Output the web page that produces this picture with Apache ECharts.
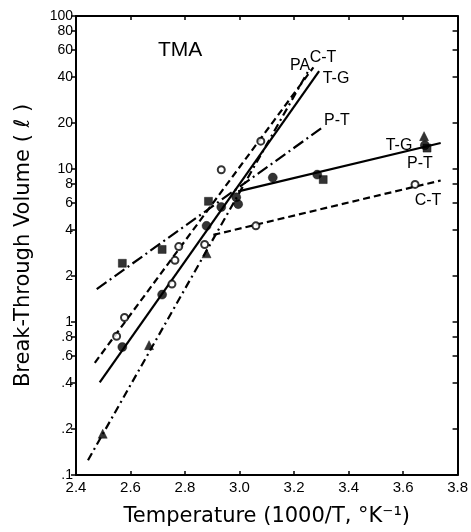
<!DOCTYPE html>
<html>
<head>
<meta charset="utf-8">
<script src="https://cdn.jsdelivr.net/npm/echarts@6/dist/echarts.min.js"></script>
<style>html,body{margin:0;padding:0;background:#fff;}#c{width:471px;height:532px;}</style>
</head>
<body>
<div id="c"></div>
<script>
// ---- data ----
const xTicks = [2.4, 2.6, 2.8, 3.0, 3.2, 3.4, 3.6, 3.8];
const yTicks = [0.1, 0.2, 0.4, 0.6, 0.8, 1, 2, 4, 6, 8, 10, 20, 40, 60, 80, 100];

// markers
const tgPoints = [[2.570,0.686],[2.716,1.51],[2.879,4.25],[2.933,5.64],[2.988,6.53],[2.995,5.89],[3.122,8.79],[3.285,9.19],[3.680,14.3]];
const ptPoints = [[2.570,2.42],[2.716,2.98],[2.886,6.15],[3.307,8.53],[3.688,13.7]];
const ctPoints = [[2.549,0.807],[2.578,1.07],[2.752,1.77],[2.763,2.53],[2.777,3.11],[2.872,3.21],[2.933,9.89],[3.060,4.25],[3.078,15.2],[3.644,7.93]];
const paPoints = [[2.498,0.186],[2.668,0.706],[2.879,2.81],[3.677,16.4]];

// fitted lines (end points)
const paSteep = [[2.444,0.125],[3.256,44.9]];
const ctSteep = [[2.469,0.541],[3.271,46.2]];
const tgSteep = [[2.487,0.403],[3.292,43.6]];
const ptSteep = [[2.476,1.64],[3.310,19.0]];
const tgptFlat = [[2.995,7.14],[3.738,14.8]];
const ctFlat = [[2.904,3.71],[3.738,8.41]];

const lineLabels = ['PA','C-T','T-G','P-T','T-G','P-T','C-T'];

// ---- chart ----
const chart = echarts.init(document.getElementById('c'), null, {renderer:'canvas'});
const FONT = 'Liberation Sans';
const black = '#000';

function lineSeries(data, type, width) {
  return {type:'line', data:data, symbol:'none', silent:true,
    lineStyle:{color:black, width:width||2.2, type:type}, z:2, animation:false};
}
function scatter(data, symbol, size, filled) {
  return {type:'scatter', data:data, symbol:symbol, symbolSize:size, silent:true, animation:false, z:3,
    itemStyle: filled ? {color:black, borderColor:black, borderWidth:0.5}
                      : {color:'#fff', borderColor:black, borderWidth:2}};
}

const yFmt = v => {
  if (v < 1) return '.' + String(Math.round(v*10));
  return String(Math.round(v));
};

const option = {
  backgroundColor:'#fff',
  animation:false,
  grid:{left:76, right:9, top:16, bottom:50, containLabel:false},
  xAxis:[
    {type:'value', position:'bottom', min:2.4, max:3.8, interval:0.2,
     axisLine:{lineStyle:{color:black, width:2}},
     axisTick:{inside:true, length:4, lineStyle:{color:black, width:1.5}},
     axisLabel:{color:black, fontFamily:FONT, fontSize:15, margin:5, formatter:v=>v.toFixed(1)},
     splitLine:{show:false},
     name:'Temperature (1000/T, °K⁻¹)', nameLocation:'middle', nameGap:31,
     nameTextStyle:{color:black, fontFamily:'DejaVu Sans', fontSize:21}},
    {type:'value', position:'top', min:2.4, max:3.8, interval:0.2,
     axisLine:{lineStyle:{color:black, width:2}},
     axisTick:{inside:true, length:4, lineStyle:{color:black, width:1.5}},
     axisLabel:{show:false}, splitLine:{show:false}}
  ],
  yAxis:[
    {type:'log', logBase:10, position:'left', min:0.1, max:100,
     axisLine:{show:true, lineStyle:{color:black, width:2}},
     axisTick:{show:true, inside:false, length:5, customValues:yTicks, lineStyle:{color:black, width:1.5}},
     axisLabel:{color:black, fontFamily:FONT, fontSize:14, margin:3, customValues:yTicks, formatter:yFmt},
     minorTick:{show:false}, splitLine:{show:false},
     name:'Break-Through Volume ( ℓ )', nameLocation:'middle', nameGap:42,
     nameTextStyle:{color:black, fontFamily:'DejaVu Sans', fontSize:21}},
    {type:'log', logBase:10, position:'right', min:0.1, max:100,
     axisLine:{show:true, lineStyle:{color:black, width:2}},
     axisTick:{show:true, inside:true, length:5, customValues:yTicks, lineStyle:{color:black, width:1.5}},
     axisLabel:{show:false}, splitLine:{show:false}}
  ],
  series:[
    lineSeries(paSteep, [8,4,2,4]),
    lineSeries(ctSteep, [7,4]),
    lineSeries(tgSteep, 'solid'),
    lineSeries(ptSteep, [12,4,2,4]),
    lineSeries(tgptFlat, 'solid'),
    lineSeries(ctFlat, [7,4]),
    scatter(tgPoints, 'circle', 9, true),
    scatter(ptPoints, 'rect', 8, true),
    scatter(ctPoints, 'circle', 7, false),
    scatter(paPoints, 'triangle', 9, true)
  ],
  graphic:[
    {type:'text', left:158, top:40, style:{text:'TMA', font:'21px "Liberation Sans"', fill:black}},
    {type:'text', x:300, y:66, style:{text:lineLabels[0], font:'16px "Liberation Sans"', fill:black, align:'center', verticalAlign:'middle'}},
    {type:'text', x:323, y:58, style:{text:lineLabels[1], font:'16px "Liberation Sans"', fill:black, align:'center', verticalAlign:'middle'}},
    {type:'text', x:336, y:79, style:{text:lineLabels[2], font:'16px "Liberation Sans"', fill:black, align:'center', verticalAlign:'middle'}},
    {type:'text', x:337, y:121, style:{text:lineLabels[3], font:'16px "Liberation Sans"', fill:black, align:'center', verticalAlign:'middle'}},
    {type:'text', x:399, y:146, style:{text:lineLabels[4], font:'16px "Liberation Sans"', fill:black, align:'center', verticalAlign:'middle'}},
    {type:'text', x:420, y:164, style:{text:lineLabels[5], font:'16px "Liberation Sans"', fill:black, align:'center', verticalAlign:'middle'}},
    {type:'text', x:428, y:201, style:{text:lineLabels[6], font:'16px "Liberation Sans"', fill:black, align:'center', verticalAlign:'middle'}}
  ]
};
chart.setOption(option);
</script>
</body>
</html>
